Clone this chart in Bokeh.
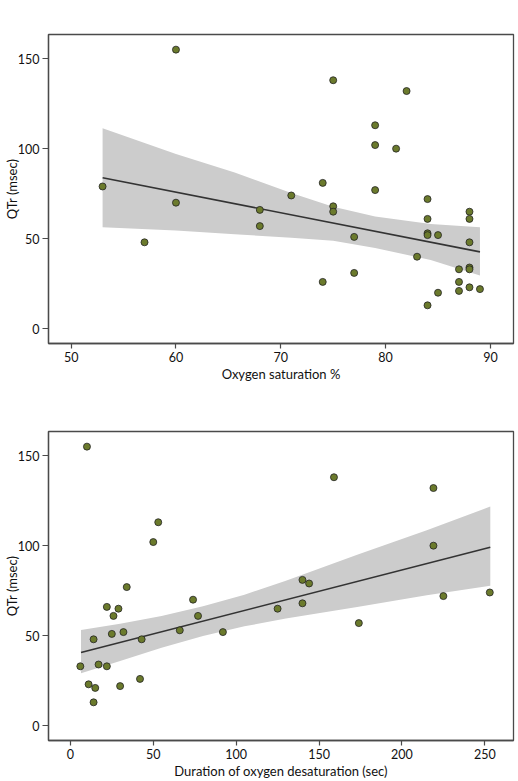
from bokeh.plotting import figure
from bokeh.models import Range1d, FixedTicker
from bokeh.layouts import column
from bokeh.embed import file_html
from bokeh.resources import INLINE

# ---- data ----
sat_x = [53, 60, 60, 57, 68, 68, 75, 82, 79, 79, 81, 74, 71, 79, 75, 75, 84, 84, 84, 84, 85,
         77, 88, 88, 88, 83, 87, 88, 88, 77, 74, 87, 88, 87, 89, 85, 84]
sat_y = [79, 155, 70, 48, 66, 57, 138, 132, 113, 102, 100, 81, 74, 77, 68, 65, 72, 61, 53, 52, 52,
         51, 65, 61, 48, 40, 33, 34, 33, 31, 26, 26, 23, 21, 22, 20, 13]

dur_x = [10, 53, 50, 34, 22, 29, 26, 74, 77, 66, 92, 32, 25, 14, 43, 6, 17, 22, 11, 15, 30, 42, 14,
         159, 219, 219, 140, 144, 140, 125, 225, 253, 174]
dur_y = [155, 113, 102, 77, 66, 65, 61, 70, 61, 53, 52, 52, 51, 48, 48, 33, 34, 33, 23, 21, 22, 26, 13,
         138, 132, 100, 81, 79, 68, 65, 72, 74, 57]

# fitted line and 95% confidence band
sat_fit_x = [53, 89]
sat_fit_y = [83.8, 42.7]
sat_band_x = [53, 60, 65.6, 71, 75, 79, 84.3, 89]
sat_band_hi = [111.4, 97.0, 86.8, 75.4, 67.8, 62.3, 58.2, 56.3]
sat_band_lo = [56.3, 54.6, 52.5, 50.5, 48.8, 44.8, 38.2, 29.5]

dur_fit_x = [6.4, 253.3]
dur_fit_y = [40.7, 99.1]
dur_band_x = [6.4, 30, 55, 80, 105, 130, 173, 215, 253.3]
dur_band_hi = [53.1, 56.6, 61.0, 66.4, 72.8, 80.5, 95.0, 108.5, 121.7]
dur_band_lo = [29.1, 36.0, 43.3, 49.8, 55.2, 59.6, 66.0, 72.5, 77.8]

sat_ticks = [50, 60, 70, 80, 90]
dur_ticks = [0, 50, 100, 150, 200, 250]
y_ticks = [0, 50, 100, 150]

x_title_top = "Oxygen saturation %"
x_title_bot = "Duration of oxygen desaturation (sec)"
y_title = "QTr (msec)"

FONT = "Lato"
FRAME = "#4a4a4a"
DOT = "#6b7a2c"
BAND = "#cccccc"
TXT = "#111111"


def make(xv, yv, fx, fy, bx, bhi, blo, xr, yr, xticks, xtitle, height, top, bottom):
    p = figure(width=518, height=height, x_range=Range1d(*xr), y_range=Range1d(*yr),
               output_backend="svg", toolbar_location=None,
               min_border_left=47, min_border_right=5,
               min_border_top=top, min_border_bottom=bottom)
    p.xgrid.visible = False
    p.ygrid.visible = False
    p.outline_line_color = FRAME
    p.outline_line_width = 1.3
    for ax in (p.xaxis[0], p.yaxis[0]):
        ax.axis_line_color = FRAME
        ax.axis_line_width = 1.3
        ax.major_tick_line_color = FRAME
        ax.major_tick_line_width = 1.2
        ax.major_tick_in = 0
        ax.minor_tick_line_color = None
        ax.major_label_text_font = FONT
        ax.major_label_text_font_size = "12.5px"
        ax.major_label_text_color = TXT
        ax.axis_label_text_font = FONT
        ax.axis_label_text_font_size = "13px"
        ax.axis_label_text_font_style = "normal"
        ax.axis_label_text_color = TXT
    p.xaxis.ticker = FixedTicker(ticks=xticks)
    p.yaxis.ticker = FixedTicker(ticks=y_ticks)
    p.xaxis.major_tick_out = 5
    p.yaxis.major_tick_out = 6
    p.xaxis.major_label_standoff = 3
    p.yaxis.major_label_standoff = 3
    p.xaxis.axis_label = xtitle
    p.yaxis.axis_label = y_title
    p.xaxis.axis_label_standoff = 1
    p.yaxis.axis_label_standoff = -5

    p.varea(x=bx, y1=blo, y2=bhi, fill_color=BAND, fill_alpha=1.0)
    p.line(fx, fy, line_color="#333333", line_width=1.6)
    p.scatter(xv, yv, size=7, fill_color=DOT, line_color="#222222", line_width=0.8)
    return p


p1 = make(sat_x, sat_y, sat_fit_x, sat_fit_y, sat_band_x, sat_band_hi, sat_band_lo,
          (47.84, 92.2), (-8.2, 163.4), sat_ticks, x_title_top, 390, 34, 47)
p2 = make(dur_x, dur_y, dur_fit_x, dur_fit_y, dur_band_x, dur_band_hi, dur_band_lo,
          (-13.2, 267.3), (-8.2, 163.4), dur_ticks, x_title_bot, 391, 41, 41)

layout = column(p1, p2, spacing=0)
open("out.html", "w").write(file_html(layout, INLINE))
